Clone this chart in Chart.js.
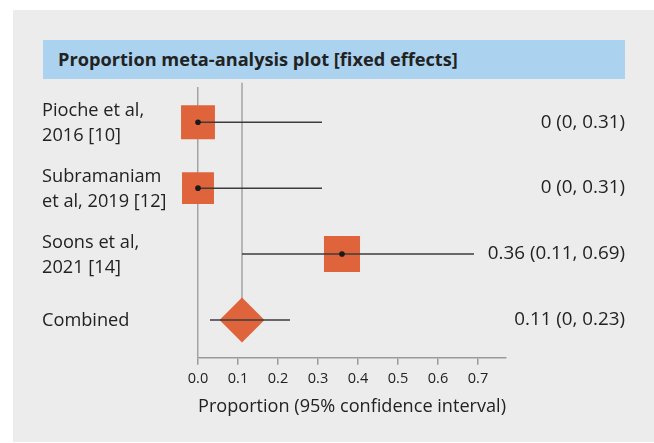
<!DOCTYPE html>
<html>
<head>
<meta charset="utf-8">
<script src="https://cdn.jsdelivr.net/npm/chart.js@4"></script>
<style>
  html, body { margin: 0; padding: 0; background: #fff; }
  #wrap { position: relative; width: 654px; height: 443px; overflow: hidden; }
  #panel { position: absolute; left: 13px; top: 10px; width: 641px; height: 432px; background: #ebeceb; }
  #title {
    position: absolute; left: 43px; top: 40px; width: 567px; height: 39px; padding-left: 15px;
    background: #abd3ef; color: #222; font: bold 18.2px "Open Sans", sans-serif; line-height: 39px;
  }
  #chart { position: absolute; left: 0; top: 0; }
</style>
</head>
<body>
<div id="wrap">
  <div id="panel"></div>
  <div id="title">Proportion meta-analysis plot [fixed effects]</div>
  <canvas id="chart" width="654" height="443"></canvas>
</div>
<script>
// rows of the forest plot, top to bottom
const studies = [
  ['Pioche et al,', '2016 [10]'],
  ['Subramaniam', 'et al, 2019 [12]'],
  ['Soons et al,', '2021 [14]'],
  ['Combined']
];
const estimates = [0, 0, 0.36, 0.11];
const lower = [0, 0, 0.11, 0.03];
const upper = [0.31, 0.31, 0.69, 0.23];
const ciLabels = ['0 (0, 0.31)', '0 (0, 0.31)', '0.36 (0.11, 0.69)', '0.11 (0, 0.23)'];
const tickLabels = ['0.0', '0.1', '0.2', '0.3', '0.4', '0.5', '0.6', '0.7'];

const ORANGE = '#e0643b';
const FONT = '"Open Sans", sans-serif';
const nStudies = studies.length - 1;
const pooled = nStudies; // last row

const whiskers = studies.map((s, i) => ({
  type: 'scatter',
  data: [{ x: lower[i], y: i }, { x: upper[i], y: i }],
  showLine: true,
  borderColor: '#3c3c3c',
  borderWidth: 1.5,
  pointRadius: 0,
  clip: false,
  order: 2
}));

const datasets = [
  // pooled estimate reference line
  {
    type: 'scatter',
    data: [{ x: estimates[pooled], y: -0.6 }, { x: estimates[pooled], y: pooled }],
    showLine: true, borderColor: '#a3a3a3', borderWidth: 1.5, pointRadius: 0,
    clip: false, order: 5
  },
  // study squares
  {
    type: 'scatter',
    data: estimates.slice(0, nStudies).map((v, i) => ({ x: v, y: i })),
    pointStyle: 'rect',
    pointRadius: [24, 22.6, 25.5],
    backgroundColor: ORANGE, borderWidth: 0,
    clip: false, order: 4
  },
  // pooled diamond
  {
    type: 'scatter',
    data: [{ x: estimates[pooled], y: pooled }],
    pointStyle: 'rectRot',
    pointRadius: 22.5,
    backgroundColor: ORANGE, borderWidth: 0,
    clip: false, order: 4
  },
  ...whiskers,
  // centre dots
  {
    type: 'scatter',
    data: estimates.slice(0, nStudies).map((v, i) => ({ x: v, y: i })),
    pointRadius: 2.8,
    backgroundColor: '#1a1a1a', borderWidth: 0,
    clip: false, order: 1
  }
];

const rowText = {
  id: 'rowText',
  afterDraw(chart) {
    const c = chart.ctx;
    const y = chart.scales.y;
    c.save();
    c.fillStyle = '#222';
    c.textBaseline = 'middle';
    studies.forEach((lines, i) => {
      const yc = y.getPixelForValue(i) + 1;
      const lh = 25;
      c.font = '18.2px ' + FONT;
      c.textAlign = 'left';
      lines.forEach((t, k) => {
        c.fillText(t, 42, yc + (k - (lines.length - 1) / 2) * lh);
      });
      c.font = '18.8px ' + FONT;
      c.textAlign = 'right';
      c.fillText(ciLabels[i], 625, yc - 1);
    });
    c.restore();
  }
};

new Chart(document.getElementById('chart'), {
  type: 'scatter',
  data: { datasets },
  options: {
    responsive: false,
    animation: false,
    layout: { padding: { left: 198, top: 88, right: 148, bottom: 17 } },
    plugins: { legend: { display: false }, tooltip: { enabled: false } },
    scales: {
      x: {
        type: 'linear', min: 0, max: 0.77,
        grid: { drawOnChartArea: false, color: '#9a9a9a', tickLength: 7, lineWidth: 1.5 },
        border: { color: '#9a9a9a', width: 1.5 },
        ticks: {
          stepSize: 0.1, includeBounds: false, padding: 5, color: '#222',
          font: { family: FONT, size: 14.5 },
          maxRotation: 0, autoSkip: false,
          callback: (v, i) => tickLabels[i]
        },
        title: {
          display: true, text: 'Proportion (95% confidence interval)', color: '#222',
          font: { family: FONT, size: 18.2 }, padding: { top: 4, bottom: 8 }
        }
      },
      y: {
        type: 'linear', reverse: true, min: -0.519, max: 3.573,
        grid: { display: true, drawOnChartArea: false, drawTicks: false },
        border: { color: '#a3a3a3', width: 1.5 },
        ticks: { display: false }
      }
    }
  },
  plugins: [rowText]
});
</script>
</body>
</html>
